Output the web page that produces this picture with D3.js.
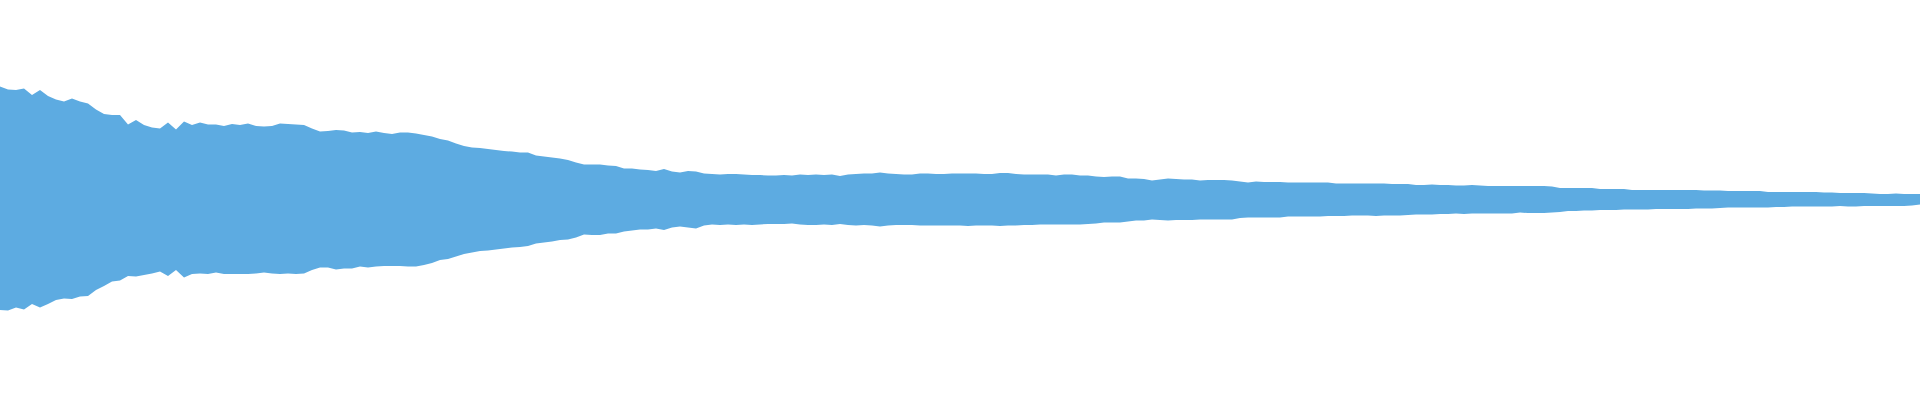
<!DOCTYPE html>
<html>
<head>
<meta charset="utf-8">
<script src="https://cdn.jsdelivr.net/npm/d3@7"></script>
<style>
  html, body { margin: 0; padding: 0; background: #ffffff; overflow: hidden; }
  svg { display: block; }
</style>
</head>
<body>
<div id="chart"></div>
<script>
// Waveform envelope, one peak pair per 1/240 of the clip
const peakMax = [
  0.567,0.553,0.55,0.558,0.525,0.55,0.52,0.503,0.492,0.507,0.492,0.483,0.453,0.43,0.425,0.425,0.378,0.4,0.375,0.363,0.358,0.387,0.353,0.392,0.375,0.387,0.378,0.378,0.37,0.38,0.375,0.383,0.37,0.367,0.37,0.383,0.38,0.378,0.375,0.358,
  0.342,0.345,0.35,0.347,0.338,0.34,0.335,0.342,0.335,0.33,0.337,0.338,0.332,0.325,0.318,0.305,0.297,0.283,0.27,0.263,0.26,0.255,0.25,0.245,0.242,0.238,0.237,0.223,0.217,0.212,0.207,0.2,0.187,0.178,0.177,0.178,0.172,0.17,0.158,0.157,
  0.153,0.15,0.145,0.155,0.142,0.138,0.145,0.142,0.132,0.13,0.128,0.13,0.13,0.128,0.125,0.125,0.122,0.123,0.125,0.122,0.128,0.125,0.127,0.125,0.128,0.12,0.128,0.13,0.132,0.132,0.137,0.133,0.13,0.128,0.128,0.132,0.133,0.13,0.13,0.132,
  0.133,0.133,0.133,0.13,0.13,0.135,0.135,0.13,0.128,0.127,0.128,0.128,0.123,0.127,0.127,0.123,0.122,0.117,0.115,0.118,0.117,0.108,0.107,0.105,0.098,0.103,0.108,0.105,0.103,0.103,0.097,0.1,0.1,0.1,0.098,0.092,0.088,0.092,0.09,0.09,
  0.09,0.088,0.087,0.087,0.087,0.087,0.087,0.083,0.082,0.082,0.082,0.083,0.082,0.082,0.08,0.08,0.08,0.075,0.075,0.077,0.075,0.075,0.073,0.073,0.075,0.073,0.07,0.07,0.07,0.07,0.07,0.07,0.07,0.07,0.068,0.06,0.06,0.06,0.06,0.06,
  0.055,0.055,0.055,0.055,0.05,0.05,0.05,0.05,0.05,0.05,0.05,0.05,0.05,0.047,0.047,0.047,0.045,0.045,0.045,0.045,0.045,0.04,0.04,0.04,0.04,0.04,0.04,0.04,0.037,0.037,0.035,0.035,0.035,0.035,0.033,0.03,0.03,0.032,0.03,0.03,
  0.03
];
const peakMin = [
  -0.55,-0.553,-0.538,-0.547,-0.52,-0.537,-0.52,-0.5,-0.492,-0.495,-0.483,-0.48,-0.45,-0.43,-0.408,-0.403,-0.38,-0.383,-0.375,-0.367,-0.358,-0.38,-0.35,-0.387,-0.37,-0.367,-0.37,-0.363,-0.37,-0.37,-0.37,-0.37,-0.367,-0.363,-0.367,-0.37,-0.367,-0.37,-0.367,-0.35,
  -0.337,-0.338,-0.347,-0.342,-0.342,-0.333,-0.337,-0.333,-0.33,-0.33,-0.33,-0.333,-0.333,-0.325,-0.315,-0.3,-0.295,-0.283,-0.27,-0.262,-0.255,-0.253,-0.248,-0.242,-0.238,-0.235,-0.23,-0.218,-0.213,-0.208,-0.2,-0.197,-0.188,-0.172,-0.175,-0.175,-0.167,-0.167,-0.157,-0.152,
  -0.147,-0.147,-0.143,-0.15,-0.137,-0.133,-0.137,-0.142,-0.128,-0.122,-0.125,-0.122,-0.125,-0.122,-0.125,-0.122,-0.12,-0.12,-0.12,-0.118,-0.122,-0.125,-0.125,-0.122,-0.125,-0.12,-0.125,-0.127,-0.125,-0.128,-0.133,-0.128,-0.125,-0.125,-0.125,-0.128,-0.128,-0.127,-0.128,-0.127,
  -0.127,-0.13,-0.127,-0.127,-0.127,-0.13,-0.128,-0.127,-0.125,-0.125,-0.123,-0.123,-0.123,-0.123,-0.122,-0.122,-0.12,-0.117,-0.113,-0.113,-0.113,-0.107,-0.103,-0.103,-0.097,-0.1,-0.103,-0.1,-0.1,-0.1,-0.097,-0.097,-0.097,-0.097,-0.097,-0.09,-0.087,-0.088,-0.088,-0.088,
  -0.087,-0.083,-0.083,-0.083,-0.083,-0.083,-0.08,-0.08,-0.08,-0.078,-0.078,-0.078,-0.08,-0.078,-0.077,-0.077,-0.075,-0.072,-0.072,-0.072,-0.07,-0.07,-0.068,-0.07,-0.068,-0.068,-0.068,-0.068,-0.067,-0.067,-0.063,-0.065,-0.065,-0.065,-0.063,-0.06,-0.055,-0.055,-0.053,-0.053,
  -0.05,-0.05,-0.05,-0.048,-0.047,-0.047,-0.047,-0.045,-0.045,-0.045,-0.045,-0.045,-0.043,-0.043,-0.043,-0.04,-0.038,-0.038,-0.038,-0.038,-0.038,-0.037,-0.035,-0.035,-0.033,-0.033,-0.033,-0.033,-0.032,-0.032,-0.03,-0.032,-0.032,-0.03,-0.03,-0.03,-0.03,-0.03,-0.03,-0.027,
  -0.023
];

const width = 1920, height = 400;
const waveColor = "#5dabe1";

const data = peakMax.map((v, i) => ({ i, max: v, min: peakMin[i] }));

const x = d3.scaleLinear().domain([0, data.length - 1]).range([0, width]);
const y = d3.scaleLinear().domain([-1, 1]).range([height, 0]);

const svg = d3.select("#chart").append("svg")
  .attr("width", width).attr("height", height);

const area = d3.area()
  .x(d => x(d.i))
  .y0(d => y(d.min))
  .y1(d => y(d.max))
  .curve(d3.curveLinear);

svg.append("path")
  .datum(data)
  .attr("fill", waveColor)
  .attr("d", area);
</script>
</body>
</html>
